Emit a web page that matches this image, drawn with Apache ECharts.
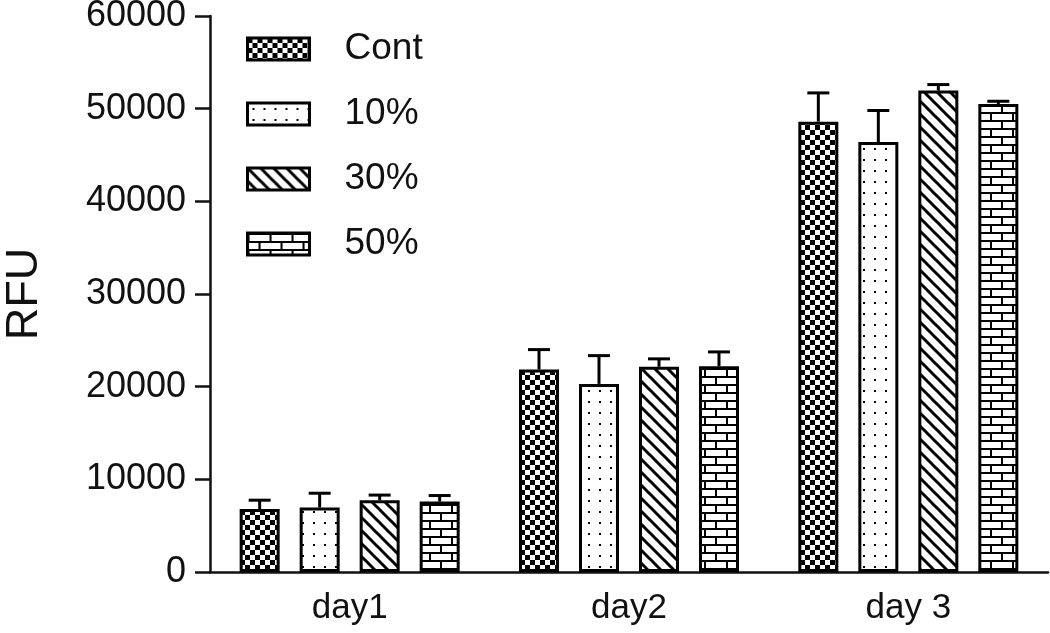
<!DOCTYPE html>
<html>
<head>
<meta charset="utf-8">
<script src="https://cdn.jsdelivr.net/npm/echarts@6/dist/echarts.min.js"></script>
<style>html,body{margin:0;padding:0;background:#fff}#c{width:1050px;height:633px}</style>
</head>
<body>
<div id="c"></div>
<script>
const categories = ['day1', 'day2', 'day 3'];
const seriesNames = ['Cont', '10%', '30%', '50%'];
const contValues = [6800, 21850, 48600];
const contErrTop = [7750, 24000, 51700];
const p10Values = [6950, 20300, 46400];
const p10ErrTop = [8500, 23350, 49800];
const p30Values = [7750, 22150, 51950];
const p30ErrTop = [8300, 23000, 52600];
const p50Values = [7600, 22200, 50500];
const p50ErrTop = [8250, 23750, 50800];
const yTicks = [0, 10000, 20000, 30000, 40000, 50000, 60000];

const values = [contValues, p10Values, p30Values, p50Values];
const errTops = [contErrTop, p10ErrTop, p30ErrTop, p50ErrTop];

function makePattern(kind) {
  const c = document.createElement('canvas');
  const ctx = c.getContext('2d');
  if (kind === 'checker') {
    c.width = 10; c.height = 10;
    ctx.fillStyle = '#fff'; ctx.fillRect(0, 0, 10, 10);
    ctx.fillStyle = '#000'; ctx.fillRect(0, 0, 5, 5); ctx.fillRect(5, 5, 5, 5);
  } else if (kind === 'dots') {
    c.width = 11; c.height = 11;
    ctx.fillStyle = '#fff'; ctx.fillRect(0, 0, 11, 11);
    ctx.fillStyle = '#000'; ctx.fillRect(5, 5, 2, 2);
  } else if (kind === 'diag') {
    const s = 13;
    c.width = s; c.height = s;
    ctx.fillStyle = '#fff'; ctx.fillRect(0, 0, s, s);
    ctx.strokeStyle = '#000'; ctx.lineWidth = 3;
    for (let k = -1; k <= 1; k++) {
      ctx.beginPath(); ctx.moveTo(-2, -2 + k * s); ctx.lineTo(s + 2, s + 2 + k * s); ctx.stroke();
    }
  } else if (kind === 'brick') {
    c.width = 22; c.height = 16;
    ctx.fillStyle = '#fff'; ctx.fillRect(0, 0, 22, 16);
    ctx.fillStyle = '#000';
    ctx.fillRect(0, 0, 22, 2); ctx.fillRect(0, 8, 22, 2);
    ctx.fillRect(0, 0, 2, 8); ctx.fillRect(11, 8, 2, 8);
  }
  return { image: c, repeat: 'repeat' };
}
const patterns = [makePattern('checker'), makePattern('dots'), makePattern('diag'), makePattern('brick')];

const chart = echarts.init(document.getElementById('c'));
const FONT = '"Liberation Sans", Arial, sans-serif';
const BAR_W = 40, BAR_GAP = '50%';

const barSeries = seriesNames.map((name, i) => ({
  name: name,
  type: 'bar',
  data: values[i],
  barWidth: BAR_W,
  barGap: BAR_GAP,
  itemStyle: { color: patterns[i], borderColor: '#000', borderWidth: 3 },
  z: 3
}));

const errSeries = seriesNames.map((name, i) => ({
  type: 'custom',
  name: name + '_err',
  data: categories.map((c, j) => [j, values[i][j], errTops[i][j]]),
  z: 2,
  silent: true,
  renderItem: function (params, api) {
    const layout = api.barLayout({ barWidth: BAR_W, barGap: BAR_GAP, count: seriesNames.length });
    const idx = api.value(0);
    const base = api.coord([idx, api.value(1)]);
    const top = api.coord([idx, api.value(2)]);
    const x = base[0] + layout[i].offsetCenter;
    const half = 11;
    const st = { stroke: '#000', lineWidth: 3 };
    return {
      type: 'group',
      children: [
        { type: 'line', shape: { x1: x, y1: base[1], x2: x, y2: top[1] }, style: st },
        { type: 'line', shape: { x1: x - half, y1: top[1], x2: x + half, y2: top[1] }, style: st }
      ]
    };
  }
}));

chart.setOption({
  backgroundColor: '#fff',
  animation: false,
  textStyle: { fontFamily: FONT, color: '#111' },
  grid: { left: 210, right: 2, top: 16, bottom: 61, containLabel: false, outerBoundsMode: 'none' },
  legend: {
    data: seriesNames,
    orient: 'vertical',
    left: 241, top: 24,
    icon: 'rect',
    itemWidth: 62, itemHeight: 22, itemGap: 25,
    itemStyle: { borderColor: '#000', borderWidth: 3 },
    textStyle: { fontSize: 37, lineHeight: 40, color: '#111', fontFamily: FONT, padding: [0, 0, 0, 30] }
  },
  xAxis: {
    type: 'category',
    data: categories,
    axisLine: { lineStyle: { color: '#111', width: 2.5 } },
    axisTick: { alignWithLabel: true, length: 12, lineStyle: { color: '#111', width: 2.5 } },
    axisLabel: { fontSize: 35, color: '#111', margin: 19, fontFamily: FONT }
  },
  yAxis: {
    type: 'value',
    min: yTicks[0], max: yTicks[yTicks.length - 1], interval: 10000,
    name: 'RFU',
    nameLocation: 'middle',
    nameGap: 163,
    nameTextStyle: { fontSize: 45, color: '#111', fontFamily: FONT },
    axisLine: { show: true, lineStyle: { color: '#111', width: 2.5 } },
    axisTick: { show: true, length: 15, lineStyle: { color: '#111', width: 2.5 } },
    axisLabel: { fontSize: 36, color: '#111', margin: 24, fontFamily: FONT, formatter: v => String(v) },
    splitLine: { show: false }
  },
  series: barSeries.concat(errSeries)
});
</script>
</body>
</html>
